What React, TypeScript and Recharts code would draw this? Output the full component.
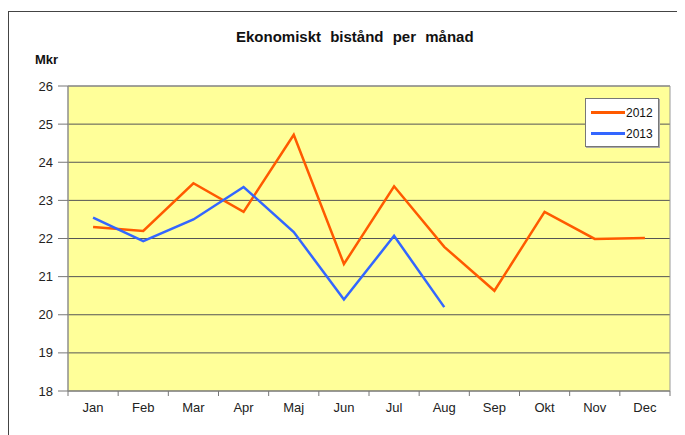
import {
  LineChart,
  Line,
  CartesianGrid,
  XAxis,
  YAxis,
} from "recharts";

const months = ["Jan", "Feb", "Mar", "Apr", "Maj", "Jun", "Jul", "Aug", "Sep", "Okt", "Nov", "Dec"];
const values2012 = [22.3, 22.2, 23.45, 22.7, 24.72, 21.33, 23.37, 21.78, 20.63, 22.7, 21.99, 22.01];
const values2013: (number | null)[] = [22.55, 21.93, 22.5, 23.35, 22.17, 20.4, 22.07, 20.2, null, null, null, null];
const yTicks = [18, 19, 20, 21, 22, 23, 24, 25, 26];
const seriesNames = ["2012", "2013"];
const seriesColors = ["#FF5A00", "#3366FF"];

const data = months.map((m, i) => ({ month: m, y2012: values2012[i], y2013: values2013[i] }));

const font = "'Liberation Sans', Arial, sans-serif";
const plotWidth = 602;
const half = plotWidth / months.length / 2;

function MonthTick(props: any) {
  const { x, y, payload, index } = props;
  return (
    <g>
      <line x1={x - half} y1={y - 8} x2={x - half} y2={y - 3} stroke="#777" />
      {index === months.length - 1 && (
        <line x1={x + half} y1={y - 8} x2={x + half} y2={y - 3} stroke="#777" />
      )}
      <text x={x} y={y + 13} textAnchor="middle" fontSize={13} fill="#222" fontFamily={font}>
        {payload.value}
      </text>
    </g>
  );
}

function LegendBox() {
  return (
    <div
      style={{
        position: "absolute",
        left: 585,
        top: 98,
        width: 74,
        height: 49,
        border: "1px solid #777",
        background: "#fff",
        boxShadow: "1px 1px 0 #aaa",
        fontFamily: font,
        fontSize: 12,
        color: "#111",
        boxSizing: "border-box",
        paddingTop: 3,
      }}
    >
      {seriesNames.map((name, i) => (
        <div key={name} style={{ display: "flex", alignItems: "center", height: 21, paddingLeft: 5 }}>
          <span style={{ display: "inline-block", width: 34, height: 2.5, background: seriesColors[i] }} />
          <span style={{ marginLeft: 1 }}>{name}</span>
        </div>
      ))}
    </div>
  );
}

// plot frame: left/right edges and top edge in gray
const frameX = ({ offset }: any) => [offset.left, offset.left + offset.width];
const frameY = ({ offset }: any) => [offset.top];

export default function App() {
  return (
    <div style={{ position: "relative", width: 685, height: 435, margin: "-8px 0 0 -8px", background: "#fff", overflow: "hidden" }}>
      <div
        style={{
          position: "absolute",
          left: 8,
          top: 11,
          width: 720,
          height: 500,
          border: "1px solid #444",
        }}
      />
      <div
        style={{
          position: "absolute",
          left: 236,
          top: 28,
          whiteSpace: "nowrap",
          fontFamily: font,
          fontWeight: "bold",
          fontSize: 15,
          wordSpacing: 5,
          color: "#111",
        }}
      >
        Ekonomiskt bistånd per månad
      </div>
      <div
        style={{
          position: "absolute",
          left: 35,
          top: 52,
          fontFamily: font,
          fontWeight: "bold",
          fontSize: 13,
          color: "#111",
        }}
      >
        Mkr
      </div>
      <div style={{ position: "absolute", left: 0, top: 0 }}>
        <LineChart width={685} height={435} data={data} margin={{ top: 86, right: 15, bottom: 14, left: 0 }}>
          <CartesianGrid horizontal vertical={false} fill="#FFFF99" stroke="#555" strokeWidth={1} />
          <CartesianGrid
            horizontal
            vertical
            stroke="#999"
            verticalCoordinatesGenerator={frameX}
            horizontalCoordinatesGenerator={frameY}
          />
          <XAxis
            dataKey="month"
            height={30}
            axisLine={{ stroke: "#888" }}
            tickLine={false}
            tick={<MonthTick />}
            interval={0}
            padding={{ left: half, right: half }}
          />
          <YAxis
            width={68}
            domain={[18, 26]}
            ticks={yTicks}
            interval={0}
            axisLine={{ stroke: "#888" }}
            tickLine={{ stroke: "#777" }}
            tickSize={10}
            tickMargin={5}
            tick={{ fontSize: 13, fill: "#222", fontFamily: font }}
          />
          <Line
            type="linear"
            dataKey="y2012"
            stroke={seriesColors[0]}
            strokeWidth={2.5}
            dot={false}
            isAnimationActive={false}
          />
          <Line
            type="linear"
            dataKey="y2013"
            stroke={seriesColors[1]}
            strokeWidth={2.5}
            dot={false}
            isAnimationActive={false}
          />
        </LineChart>
      </div>
      <LegendBox />
    </div>
  );
}
